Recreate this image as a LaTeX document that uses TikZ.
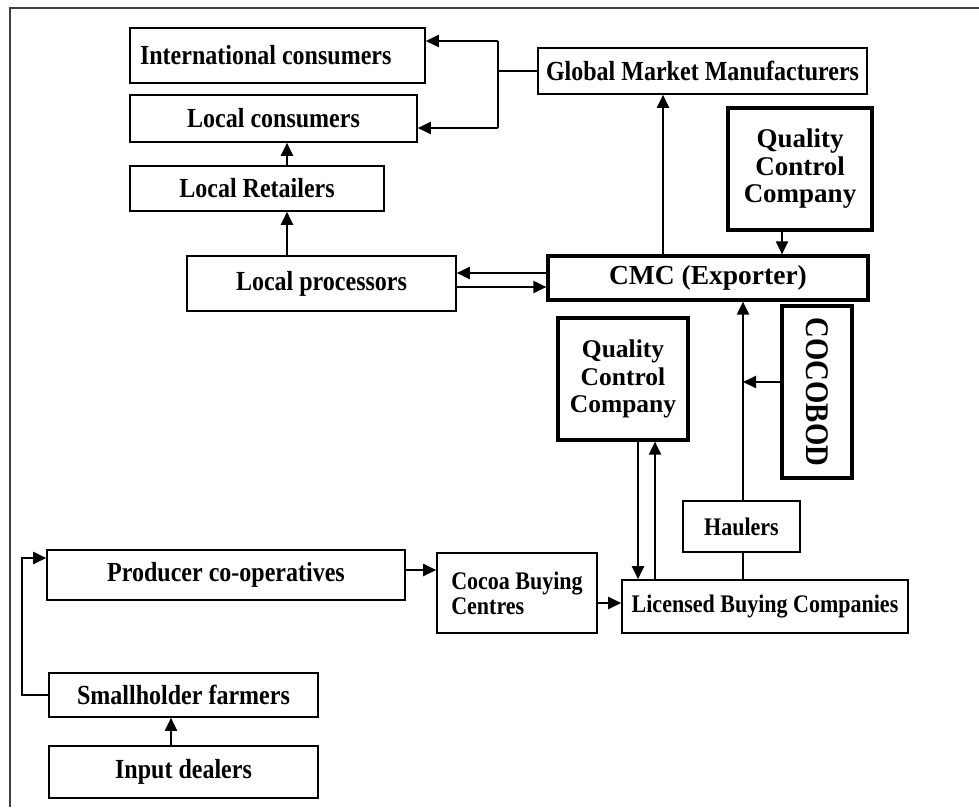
\documentclass[tikz,border=0pt]{standalone}
\usepackage{fontspec}
\setmainfont{Liberation Serif}[FakeStretch=0.87]
\newfontfamily\plainserif{Liberation Serif}
\usetikzlibrary{positioning}
\usetikzlibrary{arrows.meta}
\usetikzlibrary{math}

\tikzset{
  box/.style={draw=black, line width=1.6pt, inner sep=0pt, align=center,
    font=\bfseries\fontsize{27.6}{29}\selectfont},
  thickbox/.style={box, line width=3.2pt},
  smallfont/.style={font=\bfseries\fontsize{25.3}{25}\selectfont},
  link/.style={black, line width=2pt, ->, >={Triangle[length=13pt,width=12pt]}},
  plain/.style={black, line width=2pt},
}

\begin{document}
\begin{tikzpicture}[x=1pt, y=-1pt]
      \tikzmath{
        \W = 979;
        \H = 807;
      }
      \useasboundingbox (0,0) rectangle (\W,\H);
      \draw[line width=2pt, black!75] (10,\H) -- (10,8) -- (\W,8);

      % consumers side
      \node[box, minimum width=295pt, minimum height=55pt] (intl) at (277.5,55.5)
        {\makebox[275pt][l]{International consumers}};
      \node[box, minimum width=287pt, minimum height=47pt] (loccons) at (273.5,118.5) {Local consumers};
      \node[box, minimum width=254pt, minimum height=45pt] (retail) at (257,188.5) {Local Retailers};
      \node[box, minimum width=269pt, minimum height=55pt] (lproc) at (321.5,283.5) {Local processors};
      \node[box, minimum width=329pt, minimum height=46pt] (gmm) at (702.5,71) {Global Market Manufacturers};

      % exporter side
      \node[thickbox, minimum width=144pt, minimum height=122pt,
        font=\plainserif\bfseries\fontsize{27}{27.5}\selectfont] (qcctop) at (800,169) {Quality\\Control\\Company};
      \node[thickbox, minimum width=320pt, minimum height=44pt,
        font=\plainserif\bfseries\fontsize{27.5}{30}\selectfont] (cmc) at (708,278) {CMC (Exporter)};
      \node[thickbox, minimum width=130pt, minimum height=122pt,
        font=\plainserif\bfseries\fontsize{25.5}{27.5}\selectfont] (qccbot) at (623,379) {Quality\\Control\\Company};
      \node[thickbox, minimum width=70pt, minimum height=172pt,
        font=\bfseries\fontsize{33}{34}\selectfont] (cocobod) at (817,392) {\rotatebox{-90}{COCOBOD}};
      \node[box, smallfont, minimum width=117pt, minimum height=51pt] (haulers) at (741.5,526.5) {Haulers};
      \node[box, smallfont, minimum width=286pt, minimum height=53pt] (lbc) at (765,606.5) {Licensed Buying Companies};
      \node[box, smallfont, minimum width=160pt, minimum height=80pt, align=left] (cbc) at (517,593)
        {Cocoa Buying\\Centres};

      % farm side
      \node[box, minimum width=358pt, minimum height=50pt] (prod) at (226,575) {Producer co-operatives};
      \node[box, minimum width=269pt, minimum height=44pt] (small) at (183.5,695) {Smallholder farmers};
      \node[box, minimum width=269pt, minimum height=52pt] (input) at (183.5,772) {Input dealers};

      \coordinate (jtop) at (498,41);
      \coordinate (jbot) at (498,128);
      \coordinate (ax) at (287,0);
      \coordinate (bx) at (663,0);
      \coordinate (qx) at (782,0);
      \coordinate (ly1) at (0,273);
      \coordinate (ly2) at (0,287);
      \coordinate (dx) at (638,0);
      \coordinate (ux) at (655,0);
      \coordinate (hx) at (743,382);
      \coordinate (py) at (0,570);
      \coordinate (cy) at (0,603);
      \coordinate (ix) at (171,0);
      \coordinate (fl) at (22,0);
      \coordinate (fy) at (0,558);

      \draw[plain] (gmm.west) -- (gmm.west -| jtop);
      \draw[plain] (jtop) -- (jbot);
      \draw[link] (jtop) -- (jtop -| intl.east);
      \draw[link] (jbot) -- (jbot -| loccons.east);
      \draw[link] (ax |- retail.north) -- (ax |- loccons.south);
      \draw[link] (ax |- lproc.north) -- (ax |- retail.south);
      \draw[link] (bx |- cmc.north) -- (bx |- gmm.south);
      \draw[link] (qx |- qcctop.south) -- (qx |- cmc.north);
      \draw[link] (ly1 -| cmc.west) -- (ly1 -| lproc.east);
      \draw[link] (ly2 -| lproc.east) -- (ly2 -| cmc.west);

      \draw[link] (dx |- qccbot.south) -- (dx |- lbc.north);
      \draw[link] (ux |- lbc.north) -- (ux |- qccbot.south);
      \draw[link] (hx |- haulers.north) -- (hx |- cmc.south);
      \draw[plain] (hx |- haulers.south) -- (hx |- lbc.north);
      \draw[link] (hx -| cocobod.west) -- (hx);

      \draw[link] (py -| prod.east) -- (py -| cbc.west);
      \draw[link] (cy -| cbc.east) -- (cy -| lbc.west);
      \draw[link] (ix |- input.north) -- (ix |- small.south);
      \draw[link] (small.west) -- (small.west -| fl) -- (fl |- fy) -- (fy -| prod.west);
\end{tikzpicture}
\end{document}
